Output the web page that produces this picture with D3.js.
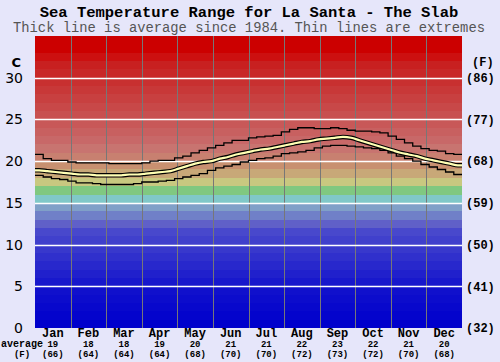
<!DOCTYPE html>
<meta charset="utf-8">
<style>
body { margin: 0; background: #e6e6fa; }
svg { display: block; }
.title { font: bold 15.5px "Liberation Mono", monospace; text-anchor: middle; fill: #000; }
.subtitle { font: 13.8px "Liberation Mono", monospace; text-anchor: middle; fill: #555; }
.ylab text { font: 14px "DejaVu Sans", sans-serif; fill: #000; }
.flab text { font: bold 12px "Liberation Mono", monospace; fill: #000; }
.mon { font: bold 12px "Liberation Mono", monospace; text-anchor: middle; }
.small { font: bold 9px "Liberation Mono", monospace; text-anchor: middle; }
</style>
<svg width="500" height="362"></svg>
<script src="https://d3js.org/d3.v7.min.js"></script>
<script>

var months = ["Jan", "Feb", "Mar", "Apr", "May", "Jun", "Jul", "Aug", "Sep", "Oct", "Nov", "Dec"];
var monthAvgC = [19, 18, 18, 19, 20, 21, 21, 22, 23, 22, 21, 20];
var monthAvgF = [66, 64, 64, 64, 68, 70, 70, 72, 73, 72, 70, 68];
var cTicks = [0, 5, 10, 15, 20, 25, 30];
var fTicks = ["(32)", "(41)", "(50)", "(59)", "(68)", "(77)", "(86)"];

// weekly values, 52 weeks
var avgTemp = [18.9, 18.8, 18.7, 18.6, 18.5, 18.4, 18.4, 18.3, 18.3, 18.3, 18.3, 18.4, 18.4,
  18.5, 18.6, 18.7, 18.8, 19.1, 19.4, 19.7, 19.9, 20.0, 20.3, 20.5, 20.8, 21.0,
  21.2, 21.4, 21.5, 21.7, 21.9, 22.1, 22.3, 22.4, 22.6, 22.7, 22.8, 22.9, 22.8,
  22.5, 22.2, 21.9, 21.6, 21.3, 21.0, 20.8, 20.6, 20.3, 20.1, 19.9, 19.7, 19.5];
var maxTemp = [20.8, 20.3, 20.1, 20.1, 19.9, 19.8, 19.8, 19.8, 19.8, 19.7, 19.7, 19.7, 19.7,
  19.8, 20.0, 20.1, 20.1, 20.4, 20.6, 21.0, 21.3, 21.6, 21.9, 22.2, 22.5, 22.5,
  22.8, 22.9, 23.0, 23.1, 23.5, 23.8, 24.0, 24.0, 23.9, 23.9, 24.0, 23.9, 23.7,
  23.6, 23.6, 23.5, 23.4, 23.0, 22.6, 22.2, 21.8, 21.5, 21.3, 21.2, 20.9, 20.8];
var minTemp = [18.3, 18.1, 17.9, 17.8, 17.6, 17.4, 17.4, 17.3, 17.2, 17.2, 17.2, 17.2, 17.3,
  17.5, 17.5, 17.6, 17.7, 17.9, 18.1, 18.3, 18.5, 18.9, 19.2, 19.4, 19.6, 19.9,
  20.1, 20.3, 20.4, 20.6, 20.9, 21.0, 21.1, 21.3, 21.6, 21.8, 21.9, 21.9, 21.8,
  21.7, 21.6, 21.5, 21.3, 21.0, 20.6, 20.3, 20.0, 19.6, 19.3, 19.0, 18.7, 18.4];

// colour of each 1 degree band, 0..34 C
var bandColors = ["#0000cc", "#0404cc", "#0808cc", "#0c0ccc", "#1010cc", "#1818cc", "#2020cc",
  "#2828cc", "#3030cc", "#3838cc", "#4040cc", "#4848cc", "#6060c8", "#7080c8", "#80a0c8",
  "#80c8c8", "#80c880", "#c8c880", "#c8a878", "#c89070", "#c88070", "#c87470", "#c86868",
  "#c86060", "#c85858", "#c85050", "#c84848", "#c84040", "#c83838", "#c83030", "#c82828",
  "#c82020", "#cc1010", "#cc0000", "#cc0000"];

var svg = d3.select("svg"),
    plotLeft = 35, plotRight = 462, plotTop = 36, plotBottom = 328;

var y = d3.scaleLinear().domain([0, 35]).range([plotBottom, plotTop]);
var x = d3.scaleLinear().domain([0, 52]).range([plotLeft, plotRight]);
var xm = d3.scaleBand().domain(months).range([plotLeft, plotRight]);

svg.append("text").attr("class", "title").attr("x", 249).attr("y", 17)
  .text("Sea Temperature Range for La Santa - The Slab");
svg.append("text").attr("class", "subtitle").attr("x", 249).attr("y", 31.5)
  .text("Thick line is average since 1984. Thin lines are extremes");

// colour bands
svg.append("g").selectAll("rect")
  .data(bandColors)
  .enter().append("rect")
    .attr("x", plotLeft)
    .attr("width", plotRight - plotLeft)
    .attr("y", function(d, i) { return y(i + 1); })
    .attr("height", function(d, i) { return y(i) - y(i + 1); })
    .attr("fill", function(d) { return d; })
    .attr("shape-rendering", "crispEdges");

// month grid
svg.append("g").selectAll("line")
  .data(months.slice(1))
  .enter().append("line")
    .attr("x1", function(d) { return Math.round(xm(d)) + 0.5; })
    .attr("x2", function(d) { return Math.round(xm(d)) + 0.5; })
    .attr("y1", plotTop).attr("y2", plotBottom)
    .attr("stroke", "#777").attr("stroke-width", 1);

// white temperature grid
svg.append("g").selectAll("line")
  .data(cTicks.slice(1))
  .enter().append("line")
    .attr("x1", plotLeft).attr("x2", plotRight)
    .attr("y1", function(d) { return Math.round(y(d)) + 0.5; })
    .attr("y2", function(d) { return Math.round(y(d)) + 0.5; })
    .attr("stroke", "#fff").attr("stroke-width", 1.5);

function pts(arr) {
  var p = arr.map(function(v, i) { return [i, v]; });
  p.push([52, arr[arr.length - 1]]);
  return p;
}

var step = d3.line()
  .x(function(d) { return x(d[0]); })
  .y(function(d) { return y(d[1]); })
  .curve(d3.curveStepAfter);

[maxTemp, minTemp].forEach(function(s) {
  svg.append("path")
    .attr("d", step(pts(s)))
    .attr("fill", "none")
    .attr("stroke", "#000")
    .attr("stroke-width", 1.3);
});

// extend the average to the plot edges
var avgPts = [avgTemp[0]].concat(avgTemp, [avgTemp[avgTemp.length - 1]]);
var smoothEdge = d3.line()
  .x(function(d, i) { return x(Math.max(0, Math.min(52, i - 0.5))); })
  .y(function(d) { return y(d); })
  .curve(d3.curveMonotoneX);
svg.append("path")
  .attr("d", smoothEdge(avgPts))
  .attr("fill", "none").attr("stroke", "#000").attr("stroke-width", 4.5);
svg.append("path")
  .attr("d", smoothEdge(avgPts))
  .attr("fill", "none").attr("stroke", "#ffffb4").attr("stroke-width", 2.2);

// left axis
var yAxis = d3.axisLeft(y).tickValues(cTicks).tickSize(0).tickPadding(0);
var ga = svg.append("g").attr("class", "ylab")
  .attr("transform", "translate(23,0)")
  .call(yAxis);
ga.select(".domain").remove();
ga.selectAll("text").attr("font-family", null).attr("font-size", null);
svg.append("text").attr("x", 21).attr("y", 67)
  .attr("text-anchor", "end")
  .style("font", "bold 13px 'DejaVu Sans', sans-serif").text("C");

// right axis
var fAxis = d3.axisRight(y).tickValues(cTicks).tickSize(0).tickPadding(0)
  .tickFormat(function(d, i) { return fTicks[i]; });
var gf = svg.append("g").attr("class", "flab")
  .attr("transform", "translate(466,0)")
  .call(fAxis);
gf.select(".domain").remove();
gf.selectAll("text").attr("font-family", null).attr("font-size", null);
svg.append("text").attr("x", 472).attr("y", 66)
  .style("font", "bold 12px 'Liberation Mono', monospace").text("(F)");

// bottom labels
var mg = svg.append("g").selectAll("g")
  .data(months)
  .enter().append("g")
    .attr("transform", function(d) { return "translate(" + (xm(d) + xm.bandwidth() / 2) + ",0)"; });
mg.append("text").attr("class", "mon").attr("y", 337).text(function(d) { return d; });
mg.append("text").attr("class", "small").attr("y", 347)
  .text(function(d, i) { return monthAvgC[i]; });
mg.append("text").attr("class", "small").attr("y", 357)
  .text(function(d, i) { return "(" + monthAvgF[i] + ")"; });

svg.append("text").attr("class", "small").attr("x", 22).attr("y", 347)
  .style("font-size", "10px").text("average");
svg.append("text").attr("class", "small").attr("x", 22).attr("y", 357).text("(F)");

</script>
